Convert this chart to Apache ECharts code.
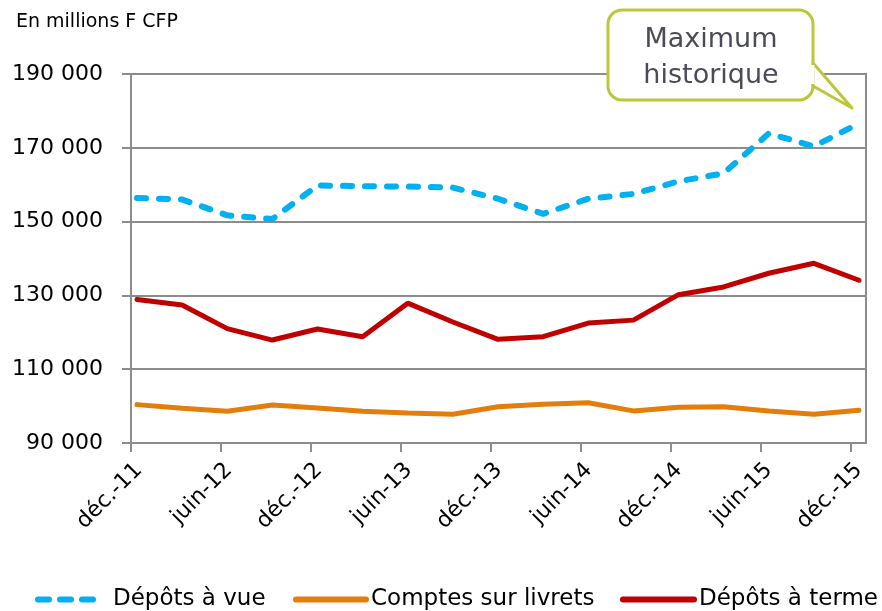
<!doctype html>
<html>
    <head>
        <meta charset="utf-8">
        <style>
            html, body { margin: 0; padding: 0; background: #fff; }
            #main { width: 882px; height: 611px; }
        </style>
    </head>
    <body>
        <div id="main"></div>
        <script src="https://cdn.jsdelivr.net/npm/echarts@6/dist/echarts.min.js"></script>
        <script>
            var periods = ['déc.-11', 'mars-12', 'juin-12', 'sept.-12', 'déc.-12', 'mars-13', 'juin-13', 'sept.-13',
                'déc.-13', 'mars-14', 'juin-14', 'sept.-14', 'déc.-14', 'mars-15', 'juin-15', 'sept.-15', 'déc.-15'];

            var depotsVue = [156400, 156000, 151700, 150700, 159800, 159600, 159500, 159200,
                156200, 152100, 156200, 157500, 160900, 163100, 173900, 170400, 176600];
            var comptesLivrets = [100400, 99400, 98600, 100300, 99500, 98600, 98100, 97800,
                99800, 100500, 100900, 98700, 99700, 99800, 98700, 97800, 98900];
            var depotsTerme = [128900, 127400, 121000, 117900, 120900, 118800, 127900, 122800,
                118100, 118800, 122500, 123300, 130200, 132300, 136000, 138700, 134100];

            var seriesNames = ['Dépôts à vue', 'Comptes sur livrets', 'Dépôts à terme'];
            var seriesColors = ['#00b0f0', '#e37d0c', '#c00000'];
            var yMin = 90000, yMax = 190000, yStep = 20000;

            var font = 'DejaVu Sans';
            var gray = '#8c8c8c';
            var lime = '#bcc63a';

            var chart = echarts.init(document.getElementById('main'));

            function legendFor(i, left, width, pad) {
                return {
                    left: left,
                    top: 588,
                    padding: 0,
                    itemWidth: width,
                    itemHeight: 14,
                    textStyle: { fontSize: 23, color: '#000', fontFamily: font, padding: [0, 0, 0, pad] },
                    data: [{
                        name: seriesNames[i],
                        itemStyle: { opacity: 0 },
                        lineStyle: i === 0
                            ? { width: 6, type: [11, 11], cap: 'round', color: seriesColors[i] }
                            : { width: 6, cap: 'round', color: seriesColors[i] }
                    }]
                };
            }

            chart.setOption({
                animation: false,
                textStyle: { fontFamily: font },
                grid: [
                    // frame + y axis
                    { left: 131, right: 16, top: 74, bottom: 168, show: true, borderColor: gray, borderWidth: 2 },
                    // x ticks
                    { left: 131, right: 31, top: 74, bottom: 168 },
                    // data
                    { left: 137, right: 23, top: 74, bottom: 168 },
                    // x labels
                    { left: 131, right: 31, top: 74, bottom: 168 }
                ],
                xAxis: [
                    { gridIndex: 0, type: 'category', data: periods, show: false },
                    {
                        gridIndex: 1, type: 'category', data: periods, boundaryGap: false,
                        axisLine: { lineStyle: { color: gray, width: 2 } },
                        axisTick: { interval: 1, length: 9, lineStyle: { color: gray, width: 2 } },
                        axisLabel: { show: false }
                    },
                    { gridIndex: 2, type: 'category', data: periods, boundaryGap: false, show: false },
                    {
                        gridIndex: 3, type: 'category', data: periods, boundaryGap: false,
                        axisLine: { show: false }, axisTick: { show: false },
                        axisLabel: {
                            interval: 1, rotate: 45, fontSize: 22, color: '#000', margin: 16,
                            verticalAlign: 'top', fontFamily: font
                        }
                    }
                ],
                yAxis: [
                    {
                        gridIndex: 0, type: 'value', min: yMin, max: yMax, interval: yStep,
                        axisLine: { show: true, lineStyle: { color: gray, width: 2 } },
                        axisTick: { show: true, length: 9, lineStyle: { color: gray, width: 2 } },
                        splitLine: { lineStyle: { color: gray, width: 2 } },
                        axisLabel: {
                            fontSize: 22, color: '#000', margin: 28, fontFamily: font,
                            formatter: function (v) {
                                return String(v).replace(/\B(?=(\d{3})+(?!\d))/g, ' ');
                            }
                        }
                    },
                    { gridIndex: 1, type: 'value', min: yMin, max: yMax, show: false, splitLine: { show: false } },
                    { gridIndex: 2, type: 'value', min: yMin, max: yMax, show: false, splitLine: { show: false } },
                    { gridIndex: 3, type: 'value', min: yMin, max: yMax, show: false, splitLine: { show: false } }
                ],
                legend: [
                    legendFor(0, 35, 66, 4),
                    legendFor(1, 293, 70, 0),
                    legendFor(2, 620, 71, 0)
                ],
                series: [
                    {
                        name: seriesNames[0], type: 'line', xAxisIndex: 2, yAxisIndex: 2,
                        data: depotsVue, symbol: 'none', color: seriesColors[0],
                        lineStyle: { width: 6, type: [9, 13], cap: 'round', color: seriesColors[0] }
                    },
                    {
                        name: seriesNames[1], type: 'line', xAxisIndex: 2, yAxisIndex: 2,
                        data: comptesLivrets, symbol: 'none', color: seriesColors[1],
                        lineStyle: { width: 5, color: seriesColors[1], cap: 'round' }
                    },
                    {
                        name: seriesNames[2], type: 'line', xAxisIndex: 2, yAxisIndex: 2,
                        data: depotsTerme, symbol: 'none', color: seriesColors[2],
                        lineStyle: { width: 5, color: seriesColors[2], cap: 'round' }
                    }
                ],
                graphic: [
                    {
                        type: 'text', x: 16, y: 13,
                        style: { text: 'En millions F CFP', fontSize: 19, fill: '#000', fontFamily: font }
                    },
                    // callout box
                    {
                        type: 'rect', z: 100,
                        shape: { x: 608, y: 10, width: 205, height: 90, r: 14 },
                        style: { fill: '#fff', stroke: lime, lineWidth: 3 }
                    },
                    {
                        type: 'polygon', z: 101,
                        shape: { points: [[813, 63], [852, 108], [813, 86]] },
                        style: { fill: '#fff', stroke: lime, lineWidth: 3, lineJoin: 'round' }
                    },
                    {
                        type: 'rect', z: 102,
                        shape: { x: 810, y: 65, width: 4.5, height: 19 },
                        style: { fill: '#fff' }
                    },
                    {
                        type: 'text', z: 103, x: 711, y: 22,
                        style: {
                            text: 'Maximum\nhistorique', fontSize: 27, lineHeight: 36, fill: '#4b4b58',
                            align: 'center', fontFamily: font
                        }
                    }
                ]
            });

            window.addEventListener('resize', function () {
                chart.resize();
            });
        </script>
    </body>
</html>
